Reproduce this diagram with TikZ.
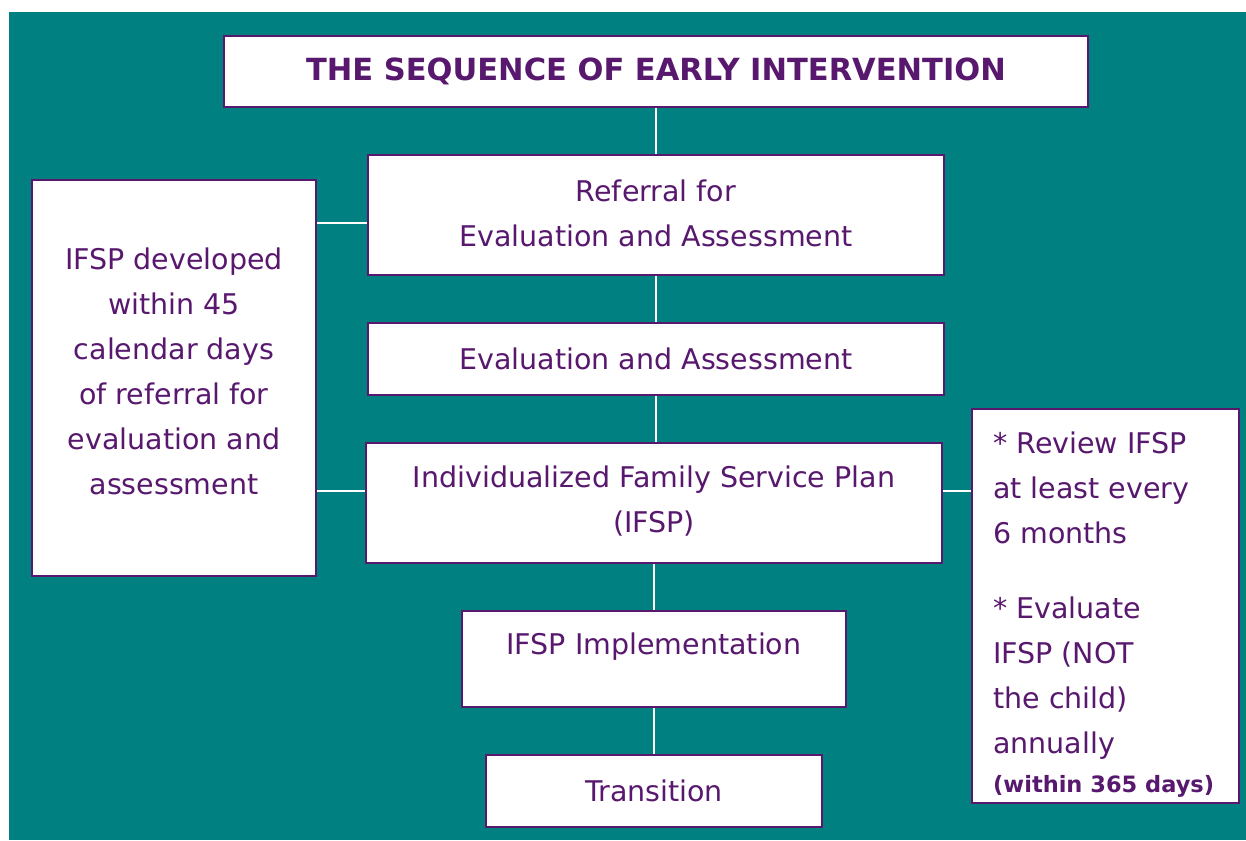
\documentclass[tikz,border=0pt]{standalone}
\usepackage{fontspec}
\setmainfont{DejaVu Sans}
\definecolor{teal0}{RGB}{0,128,128}
\definecolor{purp}{RGB}{88,24,110}
\begin{document}
\begin{tikzpicture}[x=1pt,y=-1pt,
  box/.style={draw=purp,line width=2.4pt,fill=white,inner sep=0pt,text=purp,align=center,font=\fontsize{28.5}{45}\selectfont},
  txt/.style={text=purp,inner sep=0pt,align=center,font=\fontsize{28.5}{45}\selectfont},
  link/.style={draw=white,line width=1.6pt}]
\useasboundingbox (0,0) rectangle (1246,840);
\fill[white] (0,0) rectangle (1246,840);
\fill[teal0] (9,12) rectangle (1246,840);
% boxes
\node[box,minimum width=864,minimum height=71,font=\bfseries\fontsize{30.5}{34}\selectfont] (title) at (656,71.5) {THE SEQUENCE OF EARLY INTERVENTION};
\node[box,minimum width=576,minimum height=120] (ref) at (656,215) {};
\node[txt] (reftxt) at (656,213) {Referral for\\Evaluation and Assessment};
\node[box,minimum width=284,minimum height=396] (left) at (174,378) {};
\node[txt] (lefttxt) at (174,371) {IFSP developed\\within 45\\calendar days\\of referral for\\evaluation and\\assessment};
\node[box,minimum width=576,minimum height=72] (eval) at (656,359) {Evaluation and Assessment};
\node[box,minimum width=576,minimum height=120] (ifsp) at (654,503) {};
\node[txt] (ifsptxt) at (654,501) {Individualized Family Service Plan\\(IFSP)};
\node[box,minimum width=267,minimum height=394] (right) at (1105.5,606) {};
\node[box,minimum width=384,minimum height=96] (impl) at (654,659) {};
\node[txt] (impltxt) at (654,647) {IFSP Implementation};
\node[box,minimum width=336,minimum height=72] (trans) at (654,791) {Transition};
\node[txt,anchor=north west,align=left] (righttxt) at (993,432) {* Review IFSP\\at least every\\6 months\\[30pt]* Evaluate\\IFSP (NOT\\the child)\\annually\\[-6pt]{\bfseries\fontsize{22.5}{26}\selectfont (within 365 days)}};
% connectors
\draw[link] (title.south) -- (ref.north);
\draw[link] (ref.south) -- (eval.north);
\draw[link] (eval.south) -- (ifsp.north -| eval.south);
\draw[link] (ifsp.south) -- (impl.north);
\draw[link] (impl.south) -- (trans.north);
\coordinate (l1) at (left.east |- 0,223);
\coordinate (l2) at (left.east |- 0,491);
\draw[link] (l1) -- (l1 -| ref.west);
\draw[link] (l2) -- (l2 -| ifsp.west);
\coordinate (r1) at (ifsp.east |- 0,491);
\draw[link] (r1) -- (r1 -| right.west);
\end{tikzpicture}
\end{document}
